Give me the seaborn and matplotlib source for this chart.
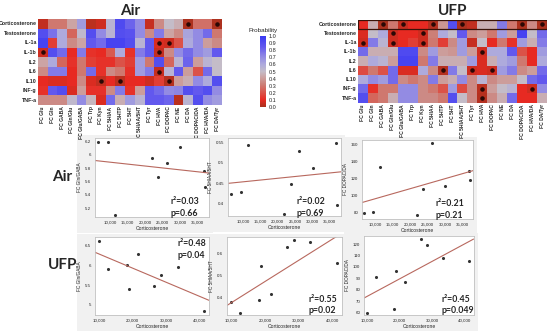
import matplotlib
matplotlib.use("Agg")
import matplotlib.pyplot as plt
import seaborn as sns
import pandas as pd
import numpy as np
from matplotlib.colors import LinearSegmentedColormap
from matplotlib.patches import Rectangle
from matplotlib.ticker import FuncFormatter, FormatStrFormatter

# ---- data ----
rows = ['Corticosterone', 'Testosterone', 'IL-1a', 'IL-1b', 'IL2', 'IL6', 'IL10', 'INF-g', 'TNF-a']
cols = ['FC Glu', 'FC Gln', 'FC GABA', 'FC Gln/Glu', 'FC Glu/GABA', 'FC Trp', 'FC Kyn',
        'FC 5HIAA', 'FC 5HTP', 'FC 5HT', 'FC 5HIAA/5HT', 'FC Tyr', 'FC HVA', 'FC DOPAC',
        'FC NE', 'FC DA', 'FC DOPAC/DA', 'FC HVA/DA', 'FC DA/Tyr']

air_prob = [
    [0.04, 0.30, 0.30, 0.42, 0.65, 0.03, 0.06, 0.55, 0.92, 0.82, 0.70, 0.05, 0.35, 0.50, 0.45, 0.01, 0.28, 0.28, 0.01],
    [0.90, 0.78, 0.60, 0.25, 0.52, 0.90, 0.70, 0.55, 0.90, 0.88, 0.70, 0.35, 0.75, 0.42, 0.35, 0.62, 0.70, 0.80, 0.30],
    [0.95, 0.15, 0.60, 0.35, 0.42, 0.85, 0.80, 0.95, 0.95, 0.90, 0.55, 0.85, 0.08, 0.06, 0.20, 0.60, 0.70, 0.40, 0.35],
    [0.06, 0.90, 0.80, 0.10, 0.75, 0.12, 0.10, 0.22, 0.60, 0.12, 0.75, 0.85, 0.05, 0.35, 0.70, 0.80, 0.70, 0.65, 0.85],
    [0.42, 0.60, 0.25, 0.12, 0.30, 0.15, 0.12, 0.12, 0.20, 0.15, 0.65, 0.30, 0.90, 0.25, 0.55, 0.82, 0.40, 0.55, 0.50],
    [0.35, 0.75, 0.75, 0.10, 0.30, 0.80, 0.12, 0.35, 0.30, 0.12, 0.65, 0.75, 0.05, 0.55, 0.85, 0.40, 0.20, 0.80, 0.50],
    [0.10, 0.08, 0.08, 0.10, 0.35, 0.08, 0.04, 0.10, 0.03, 0.10, 0.10, 0.06, 0.15, 0.02, 0.40, 0.45, 0.70, 0.60, 0.90],
    [0.12, 0.85, 0.90, 0.08, 0.40, 0.12, 0.12, 0.35, 0.75, 0.12, 0.40, 0.85, 0.80, 0.70, 0.72, 0.90, 0.85, 0.90, 0.70],
    [0.35, 0.35, 0.35, 0.52, 0.70, 0.48, 0.08, 0.80, 0.45, 0.65, 0.55, 0.85, 0.85, 0.82, 0.03, 0.55, 0.90, 0.70, 0.65],
]
air_sig = [(0, 15), (0, 18), (2, 12), (2, 13), (3, 0), (3, 12), (5, 12), (6, 6), (6, 8), (6, 13)]

ufp_prob = [
    [0.10, 0.45, 0.01, 0.30, 0.05, 0.10, 0.10, 0.02, 0.38, 0.90, 0.01, 0.04, 0.45, 0.45, 0.75, 0.30, 0.01, 0.35, 0.01],
    [0.08, 0.50, 0.60, 0.06, 0.10, 0.10, 0.06, 0.32, 0.60, 0.50, 0.85, 0.35, 0.40, 0.30, 0.65, 0.40, 0.95, 0.50, 0.80],
    [0.06, 0.75, 0.55, 0.06, 0.10, 0.15, 0.06, 0.30, 0.15, 0.35, 0.65, 0.05, 0.50, 0.10, 0.30, 0.12, 0.65, 0.45, 0.75],
    [0.80, 0.45, 0.45, 0.45, 0.92, 0.92, 0.35, 0.65, 0.40, 0.38, 0.65, 0.40, 0.06, 0.60, 0.60, 0.85, 0.20, 0.10, 0.65],
    [0.45, 0.60, 0.55, 0.40, 0.95, 0.95, 0.30, 0.75, 0.45, 0.45, 0.45, 0.65, 0.08, 0.45, 0.60, 0.65, 0.30, 0.10, 0.60],
    [0.18, 0.30, 0.20, 0.80, 0.08, 0.08, 0.60, 0.35, 0.02, 0.75, 0.50, 0.06, 0.08, 0.06, 0.65, 0.75, 0.35, 0.40, 0.80],
    [0.60, 0.70, 0.65, 0.80, 0.35, 0.30, 0.35, 0.75, 0.40, 0.45, 0.70, 0.35, 0.55, 0.35, 0.40, 0.40, 0.50, 0.80, 0.85],
    [0.80, 0.12, 0.30, 0.30, 0.70, 0.70, 0.35, 0.30, 0.20, 0.65, 0.18, 0.35, 0.03, 0.40, 0.50, 0.55, 0.10, 0.06, 0.70],
    [0.90, 0.25, 0.30, 0.45, 0.70, 0.70, 0.35, 0.35, 0.30, 0.90, 0.50, 0.35, 0.02, 0.35, 0.45, 0.80, 0.10, 0.10, 0.45],
]
ufp_sig = [(0, 2), (0, 4), (0, 7), (0, 10), (0, 16), (0, 18), (1, 3), (1, 6), (2, 0), (2, 3), (2, 6),
           (3, 12), (5, 8), (5, 11), (5, 13), (7, 12), (7, 17), (8, 12)]

air_cort = [6700, 9500, 11400, 21900, 23800, 26300, 30100, 36800, 37100]
air_gln_gaba = [6.19, 6.19, 5.10, 5.95, 5.67, 5.87, 6.11, 5.75, 5.52]
air_5hiaa_5ht = [0.423, 0.429, 0.542, 0.376, 0.448, 0.529, 0.486, 0.548, 0.396]
air_dopac_da = [80, 81, 134, 78, 108, 162, 111, 129, 119]

ufp_cort = [10000, 12700, 18200, 18900, 21700, 26500, 28500, 33500, 41300]
ufp_gln_gaba = [6.60, 5.89, 6.00, 5.39, 6.27, 5.47, 5.75, 5.96, 4.86]
ufp_5hiaa_5ht = [0.380, 0.328, 0.388, 0.545, 0.415, 0.630, 0.660, 0.650, 0.557]
ufp_dopac_da = [59.5, 91.5, 63, 96, 86.5, 124.6, 119.4, 107.5, 105.5]

air_stats = ['r²=0.03\np=0.66', 'r²=0.02\np=0.69', 'r²=0.21\np=0.21']
ufp_stats = ['r²=0.48\np=0.04', 'r²=0.55\np=0.02', 'r²=0.45\np=0.049']

# ---- style ----
sns.set_style("white")
plt.rcParams['font.family'] = ['Liberation Sans', 'DejaVu Sans']

cmap = LinearSegmentedColormap.from_list('prob', [
    (0.0, '#a8321e'), (0.1, '#e82a22'), (0.22, '#d85a50'), (0.32, '#cc8078'),
    (0.42, '#cca4a4'), (0.5, '#c4bcc8'), (0.6, '#aeaadc'), (0.72, '#8e86e4'),
    (0.85, '#6258ee'), (1.0, '#3a3af2')])

W, H = 550, 335
fig = plt.figure(figsize=(5.5, 3.35), dpi=100)


def box(x0, y0, x1, y1):
    # pixel box -> figure fraction
    return [x0 / W, 1 - y1 / H, (x1 - x0) / W, (y1 - y0) / H]


def draw_heat(ax, data, sig, title, cbar_ax=None):
    df = pd.DataFrame(data, index=rows, columns=cols)
    sns.heatmap(df, ax=ax, cmap=cmap, vmin=0, vmax=1, cbar=cbar_ax is not None,
                cbar_ax=cbar_ax, xticklabels=True, yticklabels=True)
    r, c = zip(*sig)
    ax.scatter(np.array(c) + 0.5, np.array(r) + 0.5, s=5, color='#2a0805', zorder=3)
    ax.tick_params(length=0, pad=1)
    ax.set_xticklabels(cols, rotation=90, fontsize=3.6, fontweight='bold')
    ax.set_yticklabels(rows, rotation=0, fontsize=3.8, fontweight='bold')
    ax.set_xlabel('')
    ax.set_ylabel('')
    ax.set_title(title, fontsize=11, fontweight='bold', family=['Lato', 'DejaVu Sans'], pad=3)


ax_air = fig.add_axes(box(38, 19, 222, 105))
cax = fig.add_axes(box(259.5, 36, 266, 107))
draw_heat(ax_air, air_prob, air_sig, 'Air', cbar_ax=cax)
cax.set_yticks(np.arange(0, 1.01, 0.1))
cax.yaxis.set_major_formatter(FormatStrFormatter('%.1f'))
cax.tick_params(labelsize=4, length=0, pad=2)
cax.set_title('Probability', fontsize=4.5, pad=3)
for s in cax.spines.values():
    s.set_visible(False)

ax_ufp = fig.add_axes(box(358, 19.5, 547, 102.7))
draw_heat(ax_ufp, ufp_prob, ufp_sig, 'UFP')
ax_ufp.add_patch(Rectangle((0, 0), len(cols), 1, fill=False, edgecolor='#3a1208', lw=0.9, zorder=4))

# ---- scatter panels ----
comma = FuncFormatter(lambda v, p: f'{int(v):,}')
panels = [
    # (pixel box, x, y, ylabel, ylim, yticks, xlim, xticks, stats, text pos)
    ((95, 138, 209, 217), air_cort, air_gln_gaba, 'FC Gln/GABA', (5.07, 6.25),
     [5.2, 5.4, 5.6, 5.8, 6, 6.2], (5700, 38300), range(10000, 36000, 5000), air_stats[0], (0.66, 0.12)),
    ((228, 138, 341, 216), air_cort, air_5hiaa_5ht, 'FC 5HIAA/5HT', (0.37, 0.56),
     [0.4, 0.45, 0.5, 0.55], (5700, 38300), range(10000, 36000, 5000), air_stats[1], (0.61, 0.11)),
    ((362, 140, 473, 219), air_cort, air_dopac_da, 'FC DOPAC/DA', (73, 165),
     [80, 100, 120, 140, 160], (6240, 38000), range(10000, 36000, 5000), air_stats[2], (0.66, 0.12)),
    ((95, 237, 209, 315), ufp_cort, ufp_gln_gaba, 'FC Gln/GABA', (4.75, 6.7),
     [5, 5.5, 6, 6.5], (8700, 42900), range(10000, 41000, 10000), ufp_stats[0], (0.72, 0.84)),
    ((227, 237, 342, 315), ufp_cort, ufp_5hiaa_5ht, 'FC 5HIAA/5HT', (0.32, 0.675),
     [0.4, 0.5, 0.6], (8700, 42900), range(10000, 41000, 10000), ufp_stats[1], (0.71, 0.13)),
    ((364, 236, 474, 315), ufp_cort, ufp_dopac_da, 'FC DOPAC/DA', (58, 127),
     [60, 70, 80, 90, 100, 110, 120], (9000, 43000), range(10000, 41000, 10000), ufp_stats[2], (0.70, 0.13)),
]

for (pb, xs, ys, ylab, ylim, yt, xlim, xt, stat, tpos) in panels:
    x0, y0, x1, y1 = pb
    # light grey panel behind each plot
    bg = Rectangle(((x0 - 18) / W, 1 - (y1 + 16) / H), (x1 - x0 + 22) / W, (y1 - y0 + 19) / H,
                   transform=fig.transFigure, facecolor='#f1f1f1', edgecolor='none', zorder=-10)
    fig.patches.append(bg)
    ax = fig.add_axes(box(x0, y0, x1, y1))
    ax.set_facecolor('white')
    sns.regplot(x=xs, y=ys, ax=ax, ci=None, truncate=False,
                scatter_kws=dict(s=5, color='black', linewidths=0),
                line_kws=dict(color='#b8685e', lw=0.8))
    ax.set_xlim(*xlim)
    ax.set_ylim(*ylim)
    ax.set_xticks(list(xt))
    ax.set_yticks(yt)
    ax.xaxis.set_major_formatter(comma)
    ax.yaxis.set_major_formatter(FormatStrFormatter('%g'))
    ax.tick_params(labelsize=3.2, length=1.2, width=0.4, pad=1.5, color='#888888')
    ax.set_xlabel('Corticosterone', fontsize=3.6, labelpad=1)
    ax.set_ylabel(ylab, fontsize=3.4, labelpad=2)
    for s in ax.spines.values():
        s.set_color('#c0c0c0')
        s.set_linewidth(0.6)
    ax.text(tpos[0], tpos[1], stat, transform=ax.transAxes, fontsize=6.3, fontweight='bold',
            family=['Lato', 'DejaVu Sans'], ha='left', va='center', linespacing=1.35)

fig.text(62 / W, 1 - 177 / H, 'Air', fontsize=11, fontweight='bold', family=['Lato', 'DejaVu Sans'],
         ha='center', va='center')
fig.text(63 / W, 1 - 265 / H, 'UFP', fontsize=11, fontweight='bold', family=['Lato', 'DejaVu Sans'],
         ha='center', va='center')

fig.savefig('out.png', dpi=100)
